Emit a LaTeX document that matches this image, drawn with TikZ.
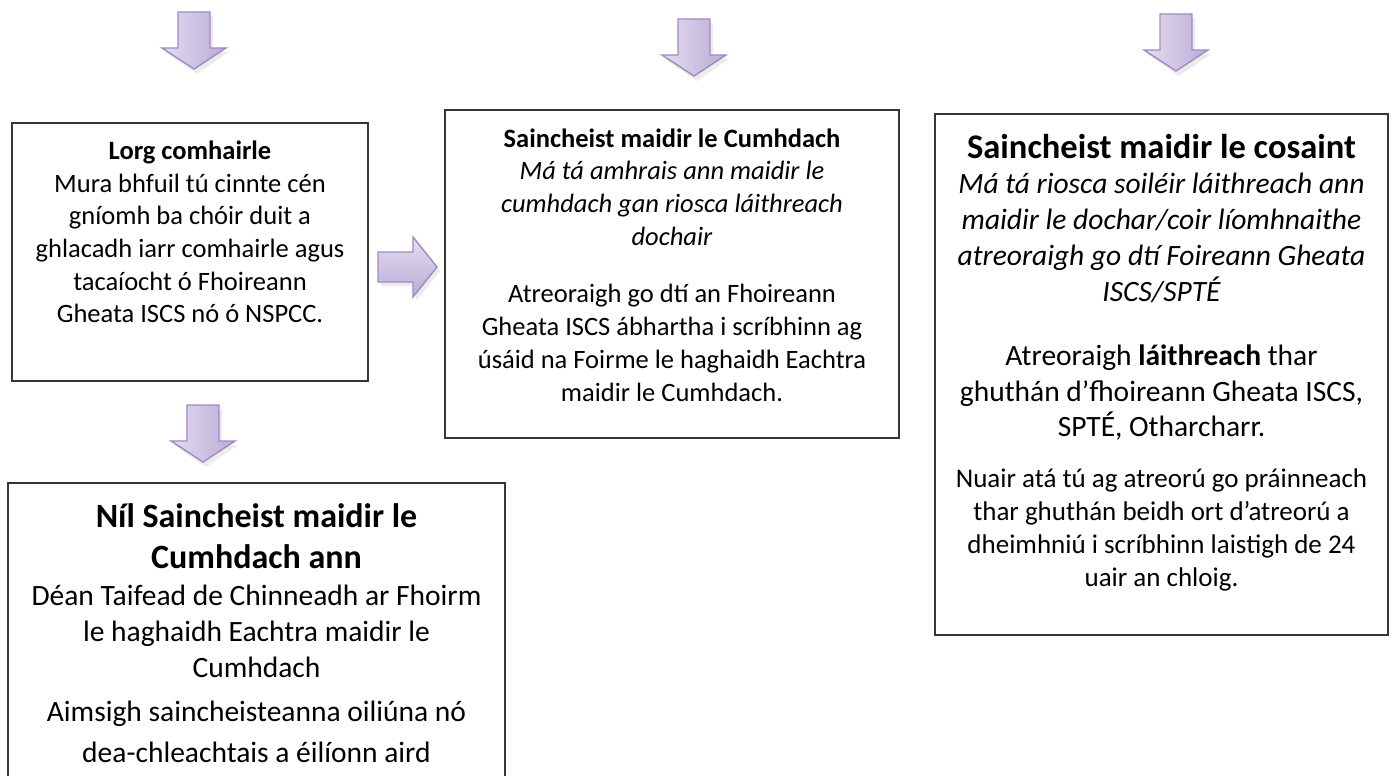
\documentclass[tikz,border=0pt]{standalone}
\usepackage{fontspec}
\setmainfont{Carlito}
\definecolor{alight}{RGB}{228,221,240}
\definecolor{adark}{RGB}{186,171,214}
\definecolor{aedge}{RGB}{160,138,198}
\definecolor{boxedge}{RGB}{55,55,55}
\tikzset{
  box/.style={draw=boxedge, line width=1.3pt, fill=white, inner sep=0pt},
  txt/.style={anchor=north, align=center, inner sep=0pt, text=black},
  aline/.style={draw=aedge, line width=1.4pt, line join=miter},
  darrow/.pic={
    \fill[black, opacity=0.08] (-13,4) -- (19,4) -- (19,40) -- (35,40) -- (3,62) -- (-29,40) -- (-13,40) -- cycle;
    \path[aline, left color=alight, right color=adark] (-16,0) -- (16,0) -- (16,36) -- (32,36) -- (0,57) -- (-32,36) -- (-16,36) -- cycle;
  },
  rarrow/.pic={
    \fill[black, opacity=0.08] (3,-11) -- (38,-11) -- (38,-26) -- (62,4) -- (38,34) -- (38,19) -- (3,19) -- cycle;
    \path[aline, top color=alight, bottom color=adark] (0,-15) -- (35,-15) -- (35,-30) -- (59,0) -- (35,30) -- (35,15) -- (0,15) -- cycle;
  }
}
\begin{document}
\begin{tikzpicture}[x=1pt, y=-1pt]
\useasboundingbox (0,0) rectangle (1392,776);
\clip (0,0) rectangle (1392,776);
\fill[white] (0,0) rectangle (1392,776);

% block arrows
\pic at (194,12) {darrow};
\pic at (694,19) {darrow};
\pic at (1176,14) {darrow};
\pic at (378,267) {rarrow};
\pic at (203,405) {darrow};

% boxes
\node[box, minimum width=356pt, minimum height=258pt] (b1) at (190,252) {};
\node[box, minimum width=454pt, minimum height=328pt] (b2) at (672,274) {};
\node[box, minimum width=453pt, minimum height=521pt] (b3) at (1161.5,374.5) {};
\node[box, minimum width=497pt, minimum height=330pt] (b4) at (256.5,648) {};

% box 1
\node[txt, font={\fontsize{26.5}{32.6}\selectfont}] (t1) at (190,141) {\textbf{Lorg comhairle}\\Mura bhfuil tú cinnte cén\\gníomh ba chóir duit a\\ghlacadh iarr comhairle agus\\tacaíocht ó Fhoireann\\Gheata ISCS nó ó NSPCC.};

% box 2
\node[txt, font={\fontsize{26.5}{32.7}\selectfont}] (t2a) at (672,128.5) {\textbf{Saincheist maidir le Cumhdach}\\\textit{Má tá amhrais ann maidir le}\\\textit{cumhdach gan riosca láithreach}\\\textit{dochair}};
\node[txt, font={\fontsize{26.5}{33}\selectfont}] (t2b) at (672,283.5) {Atreoraigh go dtí an Fhoireann\\Gheata ISCS ábhartha i scríbhinn ag\\úsáid na Foirme le haghaidh Eachtra\\maidir le Cumhdach.};

% box 3
\node[txt, font={\fontsize{34.5}{40}\selectfont\bfseries}] (t3a) at (1161.5,134) {Saincheist maidir le cosaint};
\node[txt, font={\fontsize{29.5}{36}\selectfont\itshape}] (t3b) at (1161.5,173) {Má tá riosca soiléir láithreach ann\\maidir le dochar/coir líomhnaithe\\atreoraigh go dtí Foireann Gheata\\ISCS/SPTÉ};
\node[txt, font={\fontsize{29.5}{35.5}\selectfont}] (t3c) at (1161.5,345) {Atreoraigh \textbf{láithreach} thar\\ghuthán d’fhoireann Gheata ISCS,\\SPTÉ, Otharcharr.};
\node[txt, font={\fontsize{27}{33}\selectfont}] (t3d) at (1161.5,469) {Nuair atá tú ag atreorú go práinneach\\thar ghuthán beidh ort d’atreorú a\\dheimhniú i scríbhinn laistigh de 24\\uair an chloig.};

% box 4
\node[txt, font={\fontsize{34}{41}\selectfont\bfseries}] (t4a) at (256.5,503.5) {Níl Saincheist maidir le\\Cumhdach ann};
\node[txt, font={\fontsize{29.5}{36}\selectfont}] (t4b) at (256.5,585) {Déan Taifead de Chinneadh ar Fhoirm\\le haghaidh Eachtra maidir le\\Cumhdach};
\node[txt, font={\fontsize{29.5}{41}\selectfont}] (t4c) at (256.5,701) {Aimsigh saincheisteanna oiliúna nó\\dea-chleachtais a éilíonn aird};
\end{tikzpicture}
\end{document}
